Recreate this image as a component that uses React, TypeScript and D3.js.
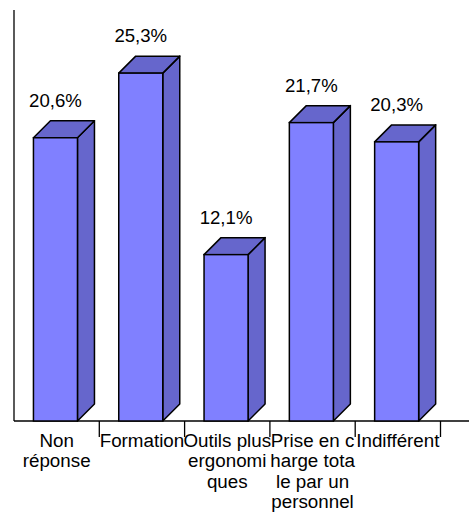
import React from "react";
import * as d3 from "d3";

const categories = ["Non réponse", "Formation", "Outils plus ergonomiques", "Prise en charge totale par un personnel", "Indifférent"];
const categoryLines = [
  ["Non", "réponse"],
  ["Formation"],
  ["Outils plus", "ergonomi", "ques"],
  ["Prise en c", "harge tota", "le par un", "personnel"],
  ["Indifférent"],
];
const values = [20.6, 25.3, 12.1, 21.7, 20.3];
const valueLabels = ["20,6%", "25,3%", "12,1%", "21,7%", "20,3%"];
const valueMax = 30;

const W = 469;
const H = 516;
const left = 14;
const right = 440.5;
const base = 421;
const top = 8.5;
const depth = 17;
const font = "'Liberation Sans', Arial, Helvetica, sans-serif";

export default function App() {
  const x = d3.scaleBand<string>().domain(categories).range([left, right]).padding(0);
  const y = d3.scaleLinear().domain([0, valueMax]).range([base, top]);
  const bw = x.bandwidth();
  const front = "#8080ff";
  const dark = "#6666cc";
  return (
    <svg width={W} height={H} style={{ position: "absolute", left: 0, top: 0, display: "block", background: "#fff" }}>
      <line x1={left} x2={left} y1={10} y2={base} stroke="#000" strokeWidth={1.3} />
      <line x1={left} x2={W} y1={base} y2={base} stroke="#000" strokeWidth={1.3} />
      {categories.map((c) => (
        <line key={"t" + c} x1={x(c)! + bw} x2={x(c)! + bw} y1={base} y2={base + 16} stroke="#000" strokeWidth={1.3} />
      ))}
      {categories.map((c, i) => {
        const x0 = x(c)! + bw * 0.228;
        const x1 = x0 + bw * 0.516;
        const yt = y(values[i]);
        const yb = y(0);
        const topPts = [[x0, yt], [x1, yt], [x1 + depth, yt - depth], [x0 + depth, yt - depth]];
        const sidePts = [[x1, yt], [x1 + depth, yt - depth], [x1 + depth, yb - depth], [x1, yb]];
        const p = (pts: number[][]) => pts.map((q) => q.join(",")).join(" ");
        return (
          <g key={c}>
            <polygon points={p(sidePts)} fill={dark} stroke="#000" strokeWidth={1.5} strokeLinejoin="round" />
            <polygon points={p(topPts)} fill={dark} stroke="#000" strokeWidth={1.5} strokeLinejoin="round" />
            <rect x={x0} y={yt} width={x1 - x0} height={yb - yt} fill={front} stroke="#000" strokeWidth={1.5} />
            <text x={(x0 + x1) / 2} y={yt - 31} textAnchor="middle" fontFamily={font} fontSize={18.6} fill="#000">
              {valueLabels[i]}
            </text>
          </g>
        );
      })}
      {categories.map((c, i) => (
        <text key={"l" + c} textAnchor="middle" fontFamily={font} fontSize={18.8} fill="#000">
          {categoryLines[i].map((ln, j) => (
            <tspan key={j} x={x(c)! + bw / 2} y={446.5 + j * 20.6}>
              {ln}
            </tspan>
          ))}
        </text>
      ))}
    </svg>
  );
}
